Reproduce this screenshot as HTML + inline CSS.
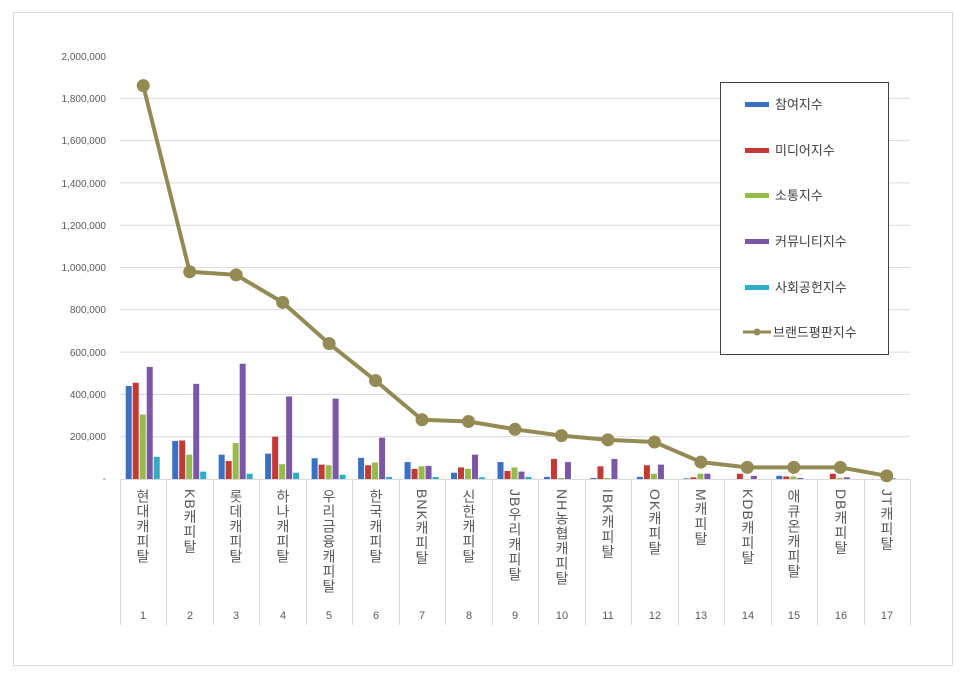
<!DOCTYPE html>
<html><head><meta charset="utf-8"><style>
html,body{margin:0;padding:0;background:#fff;}
svg{display:block;font-family:"Liberation Sans","Noto Sans CJK KR",sans-serif;}
.cat{position:absolute;top:489px;writing-mode:vertical-rl;text-orientation:mixed;font-family:"Liberation Sans","Noto Sans CJK KR",sans-serif;font-size:14px;color:#595959;line-height:14px;letter-spacing:1px}
</style></head><body>
<div style="position:relative;width:966px;height:678px;overflow:hidden">
<svg id="s" width="966" height="678" xmlns="http://www.w3.org/2000/svg">
<rect x="13.5" y="12.5" width="939" height="653" fill="#fff" stroke="#d9d9d9"/>
<g font-size="10" fill="#595959" text-anchor="end">
<text x="106" y="60">2,000,000</text>
<text x="106" y="102">1,800,000</text>
<text x="106" y="144">1,600,000</text>
<text x="106" y="187">1,400,000</text>
<text x="106" y="229">1,200,000</text>
<text x="106" y="271">1,000,000</text>
<text x="106" y="313">800,000</text>
<text x="106" y="356">600,000</text>
<text x="106" y="398">400,000</text>
<text x="106" y="440">200,000</text>
<text x="106" y="482">-</text>
</g>
<g font-size="11" fill="#595959" text-anchor="middle">
<text x="143" y="619">1</text><text x="190" y="619">2</text><text x="236" y="619">3</text><text x="283" y="619">4</text><text x="329" y="619">5</text><text x="376" y="619">6</text><text x="422" y="619">7</text><text x="469" y="619">8</text><text x="515" y="619">9</text><text x="562" y="619">10</text><text x="608" y="619">11</text><text x="655" y="619">12</text><text x="701" y="619">13</text><text x="748" y="619">14</text><text x="794" y="619">15</text><text x="841" y="619">16</text><text x="887" y="619">17</text>
</g>
<g id="g"></g>
<rect x="720.5" y="82.5" width="168" height="272" fill="#fff" stroke="#404040"/>
<g font-size="13" fill="#404040">
<rect x="745" y="102" width="24" height="5" fill="#3a6fc1"/><text x="775" y="109">참여지수</text>
<rect x="745" y="148" width="24" height="5" fill="#c33a35"/><text x="775" y="155">미디어지수</text>
<rect x="745" y="193" width="24" height="5" fill="#96bb4a"/><text x="775" y="200">소통지수</text>
<rect x="745" y="239" width="24" height="5" fill="#7b57a6"/><text x="775" y="246">커뮤니티지수</text>
<rect x="745" y="285" width="24" height="5" fill="#2fadc8"/><text x="775" y="292">사회공헌지수</text>
<line x1="743" y1="332" x2="771" y2="332" stroke="#948a54" stroke-width="3"/><circle cx="757" cy="332" r="3.5" fill="#948a54"/><text x="773" y="337">브랜드평판지수</text>
</g>
</svg>
<div class="cat" style="left:136px">현대캐피탈</div>
<div class="cat" style="left:183px">KB캐피탈</div>
<div class="cat" style="left:229px">롯데캐피탈</div>
<div class="cat" style="left:276px">하나캐피탈</div>
<div class="cat" style="left:322px">우리금융캐피탈</div>
<div class="cat" style="left:369px">한국캐피탈</div>
<div class="cat" style="left:415px">BNK캐피탈</div>
<div class="cat" style="left:462px">신한캐피탈</div>
<div class="cat" style="left:508px">JB우리캐피탈</div>
<div class="cat" style="left:555px">NH농협캐피탈</div>
<div class="cat" style="left:601px">IBK캐피탈</div>
<div class="cat" style="left:648px">OK캐피탈</div>
<div class="cat" style="left:694px">M캐피탈</div>
<div class="cat" style="left:741px">KDB캐피탈</div>
<div class="cat" style="left:787px">애큐온캐피탈</div>
<div class="cat" style="left:834px">DB캐피탈</div>
<div class="cat" style="left:880px">JT캐피탈</div>
</div>
<script>
var g=document.getElementById('g'),ns='http://www.w3.org/2000/svg',h='';
var X0=120,W=46.47,Y0=479,K=423/2000;
for(var i=1;i<10;i++){var y=Y0-i*42.3;h+='<line x1="120" x2="910" y1="'+y+'" y2="'+y+'" stroke="#d9d9d9"/>';}
h+='<line x1="120" x2="910" y1="479.5" y2="479.5" stroke="#d9d9d9"/>';
for(var i=0;i<=17;i++){var x=Math.round(X0+i*W)+.5;h+='<line x1="'+x+'" x2="'+x+'" y1="479" y2="625" stroke="#d9d9d9"/>';}
var d=[[440,455,305,530,105],[180,182,115,450,35],[115,85,170,545,25],[120,200,70,390,30],[98,68,65,380,20],[100,65,78,195,10],[80,48,60,62,10],[30,55,48,115,8],[80,38,55,35,10],[10,95,5,80,0],[5,60,5,95,0],[10,65,25,68,0],[3,8,25,25,0],[0,25,0,15,0],[15,12,12,5,0],[0,25,5,8,0],[0,0,0,3,0]];
var c=['#3a6fc1','#c33a35','#96bb4a','#7b57a6','#2fadc8'];
var L=[1860,980,965,835,640,465,280,272,235,205,185,175,80,55,55,55,15];
for(var i=0;i<17;i++){var cx=X0+i*W+W/2;for(var j=0;j<5;j++){var v=d[i][j]*K;if(v<=0)continue;var x=cx-17.5+j*7;h+='<rect x="'+x+'" y="'+(Y0-v)+'" width="6" height="'+v+'" fill="'+c[j]+'"/>';}}
var p='';for(var i=0;i<17;i++){p+=(X0+i*W+W/2)+','+(Y0-L[i]*K)+' ';}
h+='<polyline points="'+p+'" fill="none" stroke="#948a54" stroke-width="4" stroke-linejoin="round"/>';
for(var i=0;i<17;i++){h+='<circle cx="'+(X0+i*W+W/2)+'" cy="'+(Y0-L[i]*K)+'" r="6.5" fill="#948a54"/>';}
g.innerHTML=h;
</script>
</body></html>
